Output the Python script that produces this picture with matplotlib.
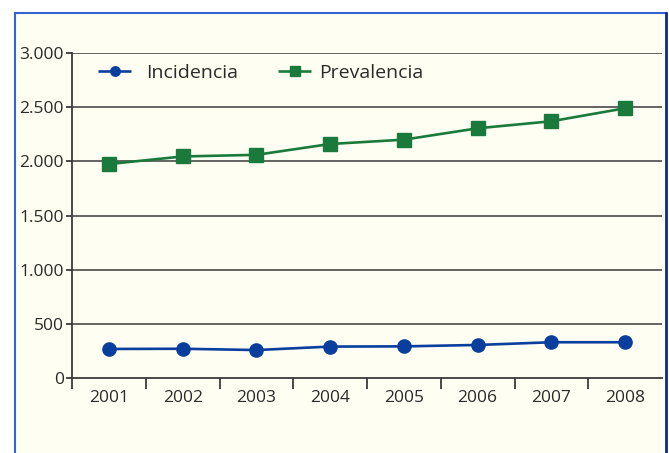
import matplotlib
matplotlib.use("Agg")
import matplotlib.pyplot as plt
from matplotlib.patches import Rectangle
from matplotlib.ticker import FixedLocator

years = ["2001", "2002", "2003", "2004", "2005", "2006", "2007", "2008"]
incidencia = [268, 270, 258, 290, 292, 305, 330, 330]
prevalencia = [1975, 2045, 2060, 2160, 2200, 2305, 2370, 2490]
yticks = [0, 500, 1000, 1500, 2000, 2500, 3000]
ytick_labels = ["0", "500", "1.000", "1.500", "2.000", "2.500", "3.000"]

plt.rcParams['font.family'] = ['Open Sans', 'DejaVu Sans']

W, H = 669, 453
fig = plt.figure(figsize=(W / 100, H / 100), dpi=100)
fig.patch.set_facecolor("white")

bg = "#FEFEF2"
# framed panel
fig.patches.append(Rectangle((15 / W, 0), (666 - 15) / W, 1 - 13 / H,
                             transform=fig.transFigure, facecolor=bg,
                             edgecolor="none", zorder=-5))
fig.lines.append(plt.Line2D([15 / W, 15 / W], [0, 1 - 13 / H], transform=fig.transFigure,
                            color="#3366CC", lw=1.5, zorder=-4))
fig.lines.append(plt.Line2D([15 / W, 666 / W], [1 - 13 / H, 1 - 13 / H], transform=fig.transFigure,
                            color="#3366CC", lw=1.5, zorder=-4))
fig.lines.append(plt.Line2D([666 / W, 666 / W], [0, 1 - 13 / H], transform=fig.transFigure,
                            color="#0A2D8C", lw=2, zorder=-4))

ax = fig.add_axes([72 / W, 1 - 378 / H, (662 - 72) / W, (378 - 53) / H])
ax.patch.set_alpha(0)

x = list(range(len(years)))
blue = "#0A3E9E"
green = "#1A7A3C"
l1, = ax.plot(x, incidencia, color=blue, lw=1.9, marker="o", markersize=9.5,
              label="Incidencia", zorder=3, solid_capstyle="butt")
l2, = ax.plot(x, prevalencia, color=green, lw=1.9, marker="s", markersize=9.5,
              label="Prevalencia", zorder=3, solid_capstyle="butt")

ax.set_xlim(-0.5, 7.5)
ax.set_ylim(0, 3000)

grid_color = "#3A3A3A"
for v in yticks[1:]:
    ax.axhline(v, color=grid_color, lw=1.1, zorder=1)

ax.set_yticks(yticks)
ax.set_yticklabels(ytick_labels)
ax.set_xticks(x)
ax.set_xticklabels(years)
ax.xaxis.set_minor_locator(FixedLocator([i - 0.5 for i in range(len(years))]))
ax.tick_params(axis="x", which="major", length=0, pad=9, labelsize=12.5, labelcolor="#2A2A2A")
ax.tick_params(axis="x", which="minor", length=8, width=1.3, color=grid_color, direction="out")
ax.tick_params(axis="y", which="major", length=4, width=1.3, color=grid_color, pad=2,
               labelsize=12.5, labelcolor="#2A2A2A")

for s in ["top", "right"]:
    ax.spines[s].set_visible(False)
for s in ["left", "bottom"]:
    ax.spines[s].set_color(grid_color)
    ax.spines[s].set_linewidth(1.3)

common = dict(loc="center left", frameon=False, fontsize=14, borderpad=0,
              borderaxespad=0, markerscale=0.72, handlelength=1.7,
              labelcolor="#2A2A2A")
leg1 = ax.legend([l1], ["Incidencia"], bbox_to_anchor=((98 - 72) / 590, (378 - 73) / 325),
                 handletextpad=0.75, **common)
ax.add_artist(leg1)
ax.legend([l2], ["Prevalencia"], bbox_to_anchor=((278 - 72) / 590, (378 - 73) / 325),
          handletextpad=0.4, **common)

fig.savefig("out.png", dpi=100, facecolor="white")
